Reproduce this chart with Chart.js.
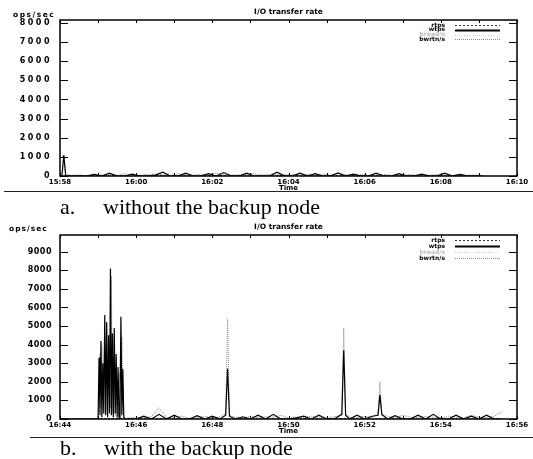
<!DOCTYPE html>
<html>
<head>
<meta charset="utf-8">
<script src="https://cdn.jsdelivr.net/npm/chart.js@4.4.1/dist/chart.umd.min.js"></script>
<style>
  html, body { margin: 0; padding: 0; background: #fff; }
  #wrap { position: relative; width: 533px; height: 459px; overflow: hidden; background: #fff; }
  canvas { position: absolute; left: 0; }
  .unit { position: absolute; font-family: "DejaVu Sans"; font-weight: bold; font-size: 7.5px; line-height: 8px; color: #000; white-space: nowrap; }
  .cap { position: absolute; font-family: "Liberation Serif", "Times New Roman", serif; font-size: 22px; line-height: 22px; color: #000; white-space: nowrap; }
  .rule { position: absolute; height: 1px; background: #222; }
</style>
</head>
<body>
<div id="wrap">
  <canvas id="ca" width="533" height="196" style="top:0px"></canvas>
  <div class="unit" style="left:13px;top:11px;letter-spacing:1.5px">ops/sec</div>
  <div class="rule" style="left:4px;top:191px;width:529px"></div>
  <div class="cap" style="left:60px;top:196px">a.</div>
  <div class="cap" style="left:103px;top:196px">without the backup node</div>

  <canvas id="cb" width="533" height="217" style="top:222px"></canvas>
  <div class="unit" style="left:9px;top:225px;letter-spacing:1px">ops/sec</div>
  <div class="rule" style="left:30px;top:437px;width:503px"></div>
  <div class="cap" style="left:60px;top:437px">b.</div>
  <div class="cap" style="left:104px;top:437px">with the backup node</div>
</div>
<script>
// ---------------- shared ----------------
const seriesNames = ['rtps', 'wtps', 'bread/s', 'bwrtn/s'];
const xLabelsA = ['15:58', '16:00', '16:02', '16:04', '16:06', '16:08', '16:10'];
const xLabelsB = ['16:44', '16:46', '16:48', '16:50', '16:52', '16:54', '16:56'];
const yTicksA = [0, 1000, 2000, 3000, 4000, 5000, 6000, 7000, 8000];
const yTicksB = [0, 1000, 2000, 3000, 4000, 5000, 6000, 7000, 8000, 9000];

// ---------------- data: chart a (minutes after 15:58) ----------------
const timesA = [0, 0.05, 0.1, 0.15, 0.3, 0.5, 0.7, 0.9, 1.1, 1.3, 1.5, 1.7, 1.9, 2.1, 2.3, 2.5, 2.7, 2.9,
  3.1, 3.3, 3.5, 3.7, 3.9, 4.1, 4.3, 4.5, 4.7, 4.9, 5.1, 5.3, 5.5, 5.7, 5.9, 6.1, 6.3, 6.5, 6.7, 6.9,
  7.1, 7.3, 7.5, 7.7, 7.9, 8.1, 8.3, 8.5, 8.7, 8.9, 9.1, 9.3, 9.5, 9.7, 9.9, 10.1, 10.3, 10.5, 10.7, 10.9, 11.1];
const wtpsA = [0, 0, 1100, 0, 0, 0, 0, 80, 0, 150, 0, 0, 100, 0, 0, 50, 200, 0, 0, 150, 0, 0, 120, 0,
  180, 0, 0, 150, 0, 0, 0, 200, 0, 0, 150, 0, 120, 0, 0, 160, 0, 100, 0, 0, 150, 0, 0, 120, 0,
  0, 100, 0, 0, 150, 0, 80, 0, 0, 0];
const bwrtnA = [1000, 1000, 1000, 100, 30, 60, 20, 100, 50, 80, 30, 120, 60, 40, 90, 100, 60, 30, 120, 70,
  40, 100, 60, 150, 80, 40, 60, 90, 120, 50, 80, 100, 40, 60, 110, 80, 50, 100, 40, 120, 70, 60, 90, 40,
  100, 80, 30, 60, 100, 50, 70, 40, 90, 60, 30, 80, 40, 50, 20];
const coarseTimesA = [0, 0.5, 1, 1.5, 2, 2.5, 3, 3.5, 4, 4.5, 5, 5.5, 6, 6.5, 7, 7.5, 8, 8.5, 9, 9.5, 10, 10.5, 11];
const rtpsA = [20, 0, 30, 10, 0, 40, 10, 0, 20, 30, 0, 10, 40, 0, 20, 10, 30, 0, 20, 10, 0, 30, 10];
const breadA = [10, 0, 20, 0, 30, 0, 10, 20, 0, 10, 30, 0, 20, 10, 0, 20, 0, 10, 30, 0, 10, 0, 20];

// ---------------- data: chart b (minutes after 16:44) ----------------
const timesB = [0, 0.2, 0.4, 0.6, 0.8, 0.95,
  1.0, 1.025, 1.05, 1.075, 1.1, 1.125, 1.15, 1.175, 1.2, 1.225, 1.25, 1.275, 1.3, 1.325, 1.35, 1.375,
  1.4, 1.425, 1.45, 1.475, 1.5, 1.525, 1.55, 1.575, 1.6, 1.625, 1.65, 1.675, 1.7,
  1.8, 2.0, 2.2, 2.4, 2.6, 2.8, 3.0, 3.2, 3.4, 3.6, 3.8, 4.0, 4.2,
  4.35, 4.4, 4.45,
  4.6, 4.8, 5.0, 5.2, 5.4, 5.6, 5.8, 6.0, 6.2, 6.4, 6.6, 6.8, 7.0, 7.2,
  7.4, 7.45, 7.5,
  7.6, 7.8, 8.0, 8.2,
  8.35, 8.4, 8.45,
  8.6, 8.8, 9.0, 9.2, 9.4, 9.6, 9.8, 10.0, 10.2, 10.4, 10.6, 10.8, 11.0, 11.2, 11.4, 11.6];
const wtpsB = [0, 0, 0, 0, 0, 0,
  0, 3300, 200, 4200, 100, 3000, 300, 5600, 200, 5200, 100, 4500, 300, 8100, 200, 4600,
  100, 4900, 300, 3500, 100, 2800, 0, 800, 5500, 200, 2700, 100, 0,
  0, 0, 150, 0, 250, 0, 200, 0, 0, 180, 0, 150, 0,
  200, 2700, 150,
  0, 120, 0, 200, 0, 250, 0, 0, 60, 150, 0, 200, 0, 0,
  250, 3700, 200,
  0, 200, 0, 150,
  200, 1300, 250,
  0, 180, 0, 0, 200, 0, 250, 0, 0, 200, 0, 150, 0, 200, 0, 0];
const bwrtnB = [0, 0, 0, 0, 0, 0,
  0, 2000, 3500, 600, 4000, 300, 3000, 4100, 500, 5200, 400, 4000, 2500, 600, 7700, 300,
  3800, 4600, 200, 1500, 300, 500, 100, 2500, 300, 4400, 1000, 200, 0,
  50, 100, 60, 120, 600, 80, 100, 150, 50, 100, 150, 60, 120,
  300, 5400, 200,
  100, 60, 150, 80, 120, 100, 200, 60, 100, 80, 150, 100, 60, 120,
  200, 4900, 300,
  100, 60, 150, 100,
  300, 2000, 200,
  150, 60, 200, 100, 80, 150, 100, 60, 150, 100, 80, 200, 100, 60, 150, 400];
const coarseTimesB = [0, 0.5, 1, 1.5, 2, 2.5, 3, 3.5, 4, 4.5, 5, 5.5, 6, 6.5, 7, 7.5, 8, 8.5, 9, 9.5, 10, 10.5, 11, 11.5];
const rtpsB = [0, 0, 0, 40, 10, 20, 0, 30, 10, 0, 20, 10, 0, 30, 10, 20, 0, 10, 30, 0, 20, 10, 0, 10];
const breadB = [0, 0, 0, 30, 0, 10, 20, 0, 10, 0, 30, 0, 10, 20, 0, 10, 0, 20, 0, 10, 0, 20, 10, 0];

const yMaxA = 8150, yMaxB = 9900, xMin = 0, xMax = 12;

function pts(xs, ys) { return xs.map((x, i) => ({ x: x, y: ys[i] })); }

const framePlugin = {
  id: 'frame',
  beforeDraw(chart) { chart.ctx.letterSpacing = '0px'; },
  afterDatasetsDraw(chart, args, opts) { chart.ctx.letterSpacing = opts.ySpacing + 'px'; },
  afterDraw(chart, args, opts) {
    const ctx = chart.ctx, a = chart.chartArea, x = chart.scales.x, y = chart.scales.y;
    ctx.save();
    ctx.letterSpacing = '0px';
    ctx.setLineDash([]);
    ctx.strokeStyle = '#000';
    ctx.lineWidth = 1.5;
    ctx.strokeRect(a.left, a.top, a.right - a.left, a.bottom - a.top);
    ctx.lineWidth = 1;
    ctx.beginPath();
    y.ticks.forEach(t => {
      const py = Math.round(y.getPixelForValue(t.value)) + 0.5;
      ctx.moveTo(a.left, py); ctx.lineTo(a.left + 8, py);
      ctx.moveTo(a.right, py); ctx.lineTo(a.right - 8, py);
    });
    x.ticks.forEach(t => {
      const px = Math.round(x.getPixelForValue(t.value)) + 0.5;
      ctx.moveTo(px, a.top); ctx.lineTo(px, a.top + 3);
      ctx.moveTo(px, a.bottom); ctx.lineTo(px, a.bottom - 3);
    });
    ctx.stroke();
    // legend (text right-aligned, line sample to the right)
    ctx.font = 'bold 6px "DejaVu Sans"';
    ctx.textAlign = 'right';
    ctx.textBaseline = 'middle';
    const tx = a.right - 72, l0 = a.right - 62, l1 = a.right - 17;
    chart.data.datasets.forEach((ds, i) => {
      const yy = a.top + opts.rowTop + i * opts.rowStep;
      ctx.fillStyle = ds.legendText;
      ctx.fillText(ds.label, tx, yy);
      ctx.strokeStyle = ds.borderColor;
      ctx.lineWidth = ds.legendWidth;
      ctx.setLineDash(ds.borderDash || []);
      ctx.beginPath();
      ctx.moveTo(l0, Math.round(yy) + 0.5); ctx.lineTo(l1, Math.round(yy) + 0.5);
      ctx.stroke();
    });
    ctx.restore();
  }
};

function makeChart(id, cfg) {
  const tickFont = { family: 'DejaVu Sans', size: 7, weight: 'bold' };
  return new Chart(document.getElementById(id), {
    type: 'line',
    data: {
      datasets: [
        { label: seriesNames[0], data: pts(cfg.coarse, cfg.rtps), borderColor: '#333', borderDash: [2, 2],
          borderWidth: 1, legendWidth: 1, legendText: '#000' },
        { label: seriesNames[1], data: pts(cfg.times, cfg.wtps), borderColor: '#000', borderWidth: 1.2,
          legendWidth: 2, legendText: '#000' },
        { label: seriesNames[2], data: pts(cfg.coarse, cfg.bread), borderColor: '#c8c8c8', borderDash: [1, 2],
          borderWidth: 1, legendWidth: 1, legendText: '#bbb' },
        { label: seriesNames[3], data: pts(cfg.times, cfg.bwrtn), borderColor: '#8a8a8a', borderDash: [1, 1],
          borderWidth: 1, legendWidth: 1, legendText: '#000' }
      ]
    },
    options: {
      responsive: false,
      animation: false,
      devicePixelRatio: 1,
      layout: { padding: { left: 0, right: 16, top: 0, bottom: 0 } },
      elements: { point: { radius: 0 }, line: { tension: 0 } },
      plugins: {
        legend: { display: false },
        tooltip: { enabled: false },
        title: { display: true, text: 'I/O transfer rate', fullSize: false, color: '#000',
          font: { family: 'DejaVu Sans', size: 7.5, weight: 'bold', lineHeight: 1.2 },
          padding: { top: cfg.titleTop, bottom: 3 } },
        frame: { rowTop: cfg.rowTop, rowStep: cfg.rowStep, ySpacing: cfg.ySpacing }
      },
      scales: {
        x: {
          type: 'linear', min: xMin, max: xMax,
          grid: { display: false, drawTicks: false }, border: { display: false },
          ticks: { stepSize: 1, autoSkip: false, maxRotation: 0, padding: 2, color: '#000', font: tickFont,
            callback: (v, i) => (i % 2 === 0 ? cfg.labels[i / 2] : '') },
          title: { display: true, text: 'Time', color: '#000',
            font: { family: 'DejaVu Sans', size: 7, weight: 'bold' }, padding: { top: 0, bottom: 4 } },
          afterFit: s => { s.height = 20; }
        },
        y: {
          min: 0, max: cfg.yMax,
          grid: { display: false, drawTicks: false }, border: { display: false },
          afterBuildTicks: s => { s.ticks = cfg.yTicks.map(v => ({ value: v })); },
          ticks: { padding: 8, z: 1, color: '#000',
            font: { family: 'DejaVu Sans', size: 8, weight: 'bold' }, callback: v => String(v) },
          afterFit: s => { s.width = 60; }
        }
      }
    },
    plugins: [framePlugin]
  });
}

makeChart('ca', { times: timesA, wtps: wtpsA, bwrtn: bwrtnA, coarse: coarseTimesA, rtps: rtpsA, bread: breadA,
  labels: xLabelsA, yTicks: yTicksA, yMax: yMaxA, titleTop: 8, rowTop: 5, rowStep: 4.8, ySpacing: 2.5 });
makeChart('cb', { times: timesB, wtps: wtpsB, bwrtn: bwrtnB, coarse: coarseTimesB, rtps: rtpsB, bread: breadB,
  labels: xLabelsB, yTicks: yTicksB, yMax: yMaxB, titleTop: 1, rowTop: 5, rowStep: 6, ySpacing: 0.5 });
</script>
</body>
</html>
